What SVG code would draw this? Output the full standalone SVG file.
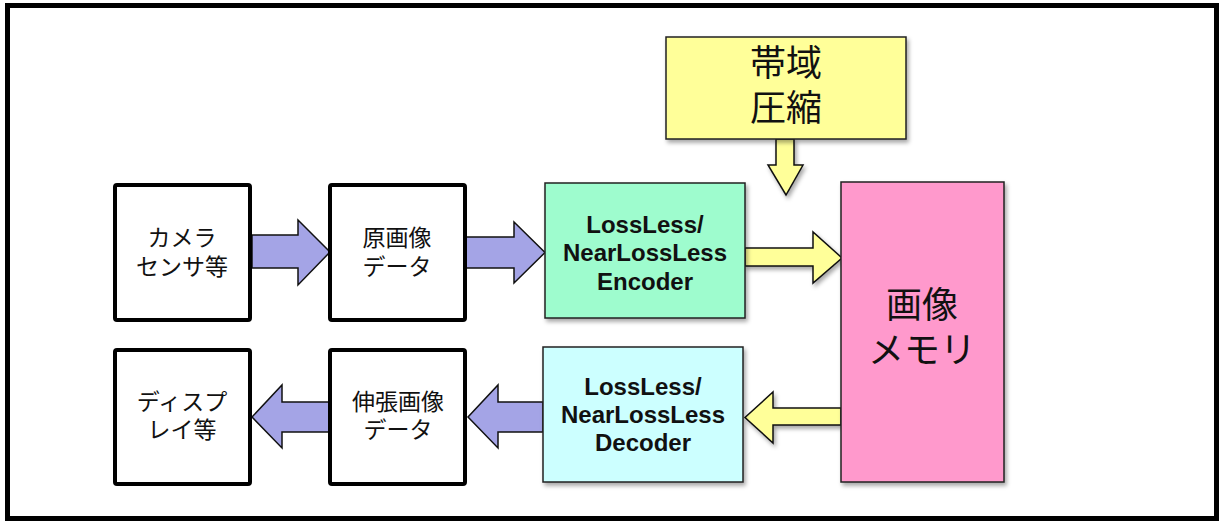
<svg xmlns="http://www.w3.org/2000/svg" width="1220" height="522" viewBox="0 0 1220 522">
<defs>
<filter id="sh" x="-10%" y="-10%" width="130%" height="130%">
<feDropShadow dx="2" dy="3" stdDeviation="2" flood-color="#000" flood-opacity="0.35"/>
</filter>
<style>
.frame{fill:#fff;stroke:#000;stroke-width:5}
.wbox{fill:#fff;stroke:#000;stroke-width:4}
.cbox{stroke:#222;stroke-width:1.5}
.blue{fill:#A4A4E6;stroke:#111;stroke-width:1.5;stroke-linejoin:miter}
.yel{fill:#FFFF99;stroke:#111;stroke-width:1.5;stroke-linejoin:miter}
.jp{font-family:"Noto Sans CJK JP","Noto Sans",sans-serif;font-size:23px;fill:#111;text-anchor:middle}
.jpl{font-family:"Noto Sans CJK JP","Noto Sans",sans-serif;font-size:36px;fill:#111;text-anchor:middle}
.en{font-family:"Liberation Sans",Arial,sans-serif;font-size:24px;font-weight:bold;fill:#111;text-anchor:middle}
</style>
</defs>
<rect class="frame" x="7.5" y="5.5" width="1209" height="513"/>

<g id="connectors">
<path class="blue" d="M252,235 H298 V220 L330,252 L298,285 V268 H252 Z"/>
<path class="blue" d="M466,237 H514 V222 L545,252.5 L514,283 V268 H466 Z"/>
<path class="yel" filter="url(#sh)" d="M745,248 H813 V232 L842,258 L813,283 V266 H745 Z"/>
<path class="yel" filter="url(#sh)" d="M776,139 V165 H768 L786,195 L803,165 H794 V139 Z"/>
<path class="yel" filter="url(#sh)" d="M841,408 H773 V392 L745,417.5 L773,443 V425 H841 Z"/>
<path class="blue" d="M543,402 H498 V385 L468,417 L498,448 V432 H543 Z"/>
<path class="blue" d="M329,402 H282 V385 L252,417 L282,448 V432 H329 Z"/>
</g>

<g id="camera">
<rect class="wbox" x="115" y="185" width="135" height="135" rx="2"/>
<text class="jp" x="182" y="246">カメラ</text>
<text class="jp" x="182" y="275">センサ等</text>
</g>
<g id="rawimage">
<rect class="wbox" x="330" y="185" width="135" height="135" rx="2"/>
<text class="jp" x="397" y="246">原画像</text>
<text class="jp" x="397" y="275">データ</text>
</g>
<g id="encoder">
<rect class="cbox" filter="url(#sh)" x="545" y="183" width="200" height="135" fill="#9EFCCE"/>
<text class="en" x="645" y="233">LossLess/</text>
<text class="en" x="645" y="261">NearLossLess</text>
<text class="en" x="645" y="290">Encoder</text>
</g>
<g id="bandwidth">
<rect class="cbox" filter="url(#sh)" x="666" y="37" width="240" height="102" fill="#FFFF99"/>
<text class="jpl" x="786" y="76">帯域</text>
<text class="jpl" x="786" y="121">圧縮</text>
</g>
<g id="memory">
<rect class="cbox" filter="url(#sh)" x="841" y="182" width="163" height="300" fill="#FF99CC"/>
<text class="jpl" x="922" y="318">画像</text>
<text class="jpl" x="922" y="363">メモリ</text>
</g>
<g id="decoder">
<rect class="cbox" filter="url(#sh)" x="543" y="347" width="200" height="135" fill="#CCFFFF"/>
<text class="en" x="643" y="395">LossLess/</text>
<text class="en" x="643" y="423">NearLossLess</text>
<text class="en" x="643" y="451">Decoder</text>
</g>
<g id="expanded">
<rect class="wbox" x="330" y="350" width="135" height="134" rx="2"/>
<text class="jp" x="398" y="410">伸張画像</text>
<text class="jp" x="398" y="438">データ</text>
</g>
<g id="display">
<rect class="wbox" x="115" y="350" width="135" height="134" rx="2"/>
<text class="jp" x="182" y="410">ディスプ</text>
<text class="jp" x="182" y="438">レイ等</text>
</g>
</svg>
